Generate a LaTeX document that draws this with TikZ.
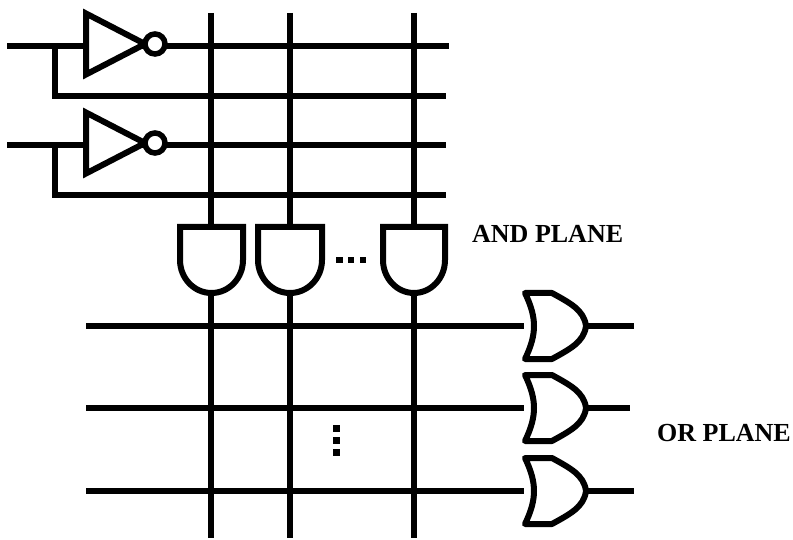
\documentclass[tikz,border=0pt]{standalone}
\usepackage{fontspec}
\setmainfont{Liberation Serif}
\tikzset{
  wire/.style={line width=6pt,line cap=butt},
  gateline/.style={line width=6pt,line join=round,fill=white},
  lbl/.style={font=\fontsize{26}{26}\selectfont\bfseries,inner sep=0pt,anchor=west},
  dotsq/.style={fill=black,minimum size=6.5pt,inner sep=0pt,draw=none}
}
\begin{document}
\begin{tikzpicture}[x=1pt,y=-1pt]
\useasboundingbox (0,0) rectangle (793,540);
% terminals
\foreach \n/\x/\y in {i1/7/46,i2/7/145,a/449/46,b/446/96,c/446/145,d/446/195,
  v1t/211/13,v2t/289.5/13,v3t/414/13,v1b/211/538,v2b/289.5/538,v3b/414/538,
  o1/86/326,o2/86/408,o3/86/491,p1/634/326,p2/630/408,p3/634/491,
  t1/54.5/96,t2/54.5/195,j1/54.5/46,j2/54.5/145,
  q1/524/326,q2/524/408,q3/524/491,r1/588/326,r2/588/408,r3/588/491}
  \coordinate (\n) at (\x,\y);
% wires
\draw[wire] (i1) -- (a);
\draw[wire] (i2) -- (c);
\draw[wire,line join=miter] (j1) -- (t1) -- (b);
\draw[wire,line join=miter] (j2) -- (t2) -- (d);
\draw[wire] (v1t) -- (v1b);
\draw[wire] (v2t) -- (v2b);
\draw[wire] (v3t) -- (v3b);
\draw[wire] (o1) -- (q1);
\draw[wire] (o2) -- (q2);
\draw[wire] (o3) -- (q3);
\draw[wire] (r1) -- (p1);
\draw[wire] (r2) -- (p2);
\draw[wire] (r3) -- (p3);
% inverters
\foreach \y in {44,143}{
  \draw[gateline,miter limit=10,line join=miter] (86,\y-30.5) -- (145,\y) -- (86,\y+30.5) -- cycle;
  \draw[line width=5.5pt,fill=white] (155,\y) circle (10);
}
% AND gates
\foreach \l/\r in {180/243,258/322,383/445}{
  \draw[gateline,line join=miter] (\l,227) -- (\r,227) -- (\r,260)
    arc[start angle=0,end angle=180,x radius={(\r-\l)/2},y radius=33] -- cycle;
}
% OR gates
\foreach \c in {326,408,491}{
  \draw[gateline] (525,\c-33) -- (552,\c-33)
    .. controls (570,\c-23) and (584,\c-16) .. (586,\c)
    .. controls (584,\c+16) and (570,\c+23) .. (552,\c+33)
    -- (525,\c+33)
    .. controls (537,\c+8) and (537,\c-8) .. (525,\c-33) -- cycle;
}
% dots
\foreach \x [count=\i] in {339.5,351,363} \node[dotsq] (h\i) at (\x,260) {};
\foreach \y [count=\i] in {428.5,440.5,452.5} \node[dotsq] (w\i) at (336.5,\y) {};
% labels
\node[lbl] (andl) at (472,234) {AND PLANE};
\node[lbl] (orl) at (657,433) {OR PLANE};
\end{tikzpicture}
\end{document}
